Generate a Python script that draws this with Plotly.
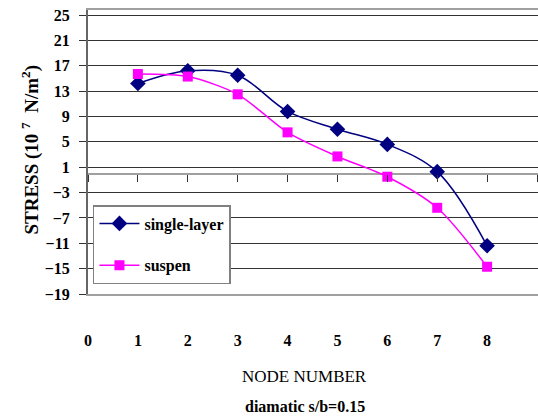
import plotly.graph_objects as go

nodes = [1, 2, 3, 4, 5, 6, 7, 8]
single_layer = [14.2, 16.2, 15.5, 9.8, 7.0, 4.6, 0.3, -11.4]
suspen = [15.7, 15.3, 12.5, 6.5, 2.7, -0.5, -5.4, -14.7]
y_ticks = [-19, -15, -11, -7, -3, 1, 5, 9, 13, 17, 21, 25]
x_ticks = [0, 1, 2, 3, 4, 5, 6, 7, 8, 9]

YMIN, YMAX = -19, 25.8
serif = "Liberation Serif"

fig = go.Figure()
fig.add_trace(go.Scatter(
    x=nodes, y=single_layer, name="single-layer", mode="lines+markers",
    line=dict(color="#000080", width=1.5, shape="spline", smoothing=1.0),
    marker=dict(symbol="diamond", size=12, color="#000080"),
    legendgroup="a"))
fig.add_trace(go.Scatter(
    x=nodes, y=suspen, name="suspen", mode="lines+markers",
    line=dict(color="#FF00FF", width=1.5, shape="spline", smoothing=0.8),
    marker=dict(symbol="square", size=10, color="#FF00FF"),
    legendgroup="b"))
# invisible trace to carry the zero-line tick axis
fig.add_trace(go.Scatter(x=nodes, y=suspen, xaxis="x2", mode="none",
                         showlegend=False, hoverinfo="skip"))

fig.update_layout(
    width=538, height=417,
    margin=dict(l=88, r=0, t=10, b=123, autoexpand=False),
    paper_bgcolor="white", plot_bgcolor="white",
    font=dict(family=serif, color="black", size=14),
    xaxis=dict(range=[0, 9.02], tickvals=x_ticks, showgrid=False, zeroline=False,
               showline=True, linecolor="#a0a0a0", linewidth=2, mirror=True,
               ticks="", ticklabelstandoff=31, automargin=False,
               tickfont=dict(family=serif, size=16, weight="bold")),
    xaxis2=dict(range=[0, 9.02], overlaying="x", anchor="free",
                position=(0 - YMIN) / (YMAX - YMIN), side="bottom",
                tickvals=x_ticks, ticks="outside", ticklen=7, tickcolor="#333",
                showticklabels=False, showgrid=False, zeroline=False, showline=False),
    yaxis=dict(range=[YMIN, YMAX], tickvals=y_ticks, showgrid=True,
               gridcolor="#333333", gridwidth=1, automargin=False,
               zeroline=True, zerolinecolor="#a0a0a0", zerolinewidth=2,
               showline=True, linecolor="#666666", linewidth=2,
               ticks="outside", ticklen=7, tickcolor="#333",
               ticklabelstandoff=6,
               tickfont=dict(family=serif, size=16, weight="bold")),
    legend=dict(x=0.011, y=(294 - 205) / 284, xanchor="left", yanchor="top",
                bgcolor="white", bordercolor="#808080", borderwidth=1.5,
                font=dict(family=serif, size=16, weight="bold"),
                tracegroupgap=18, itemwidth=40, traceorder="grouped"),
    showlegend=True,
    annotations=[
        dict(text="NODE NUMBER", xref="paper", yref="paper", x=0.482, y=-0.331,
             showarrow=False, font=dict(family=serif, size=17)),
        dict(text="<b>diamatic s/b=0.15</b>", xref="paper", yref="paper", x=0.482, y=-0.433,
             showarrow=False, font=dict(family=serif, size=16)),
        dict(text="<b>STRESS (10 <sup>7</sup>  N/m<sup>2</sup>)</b>", xref="paper", yref="paper",
             x=-0.16, y=0.507, textangle=-90, showarrow=False,
             font=dict(family=serif, size=19)),
    ],
)
fig.write_html("out.html", post_script="document.body.style.margin='0';",
               config={"displayModeBar": False})
